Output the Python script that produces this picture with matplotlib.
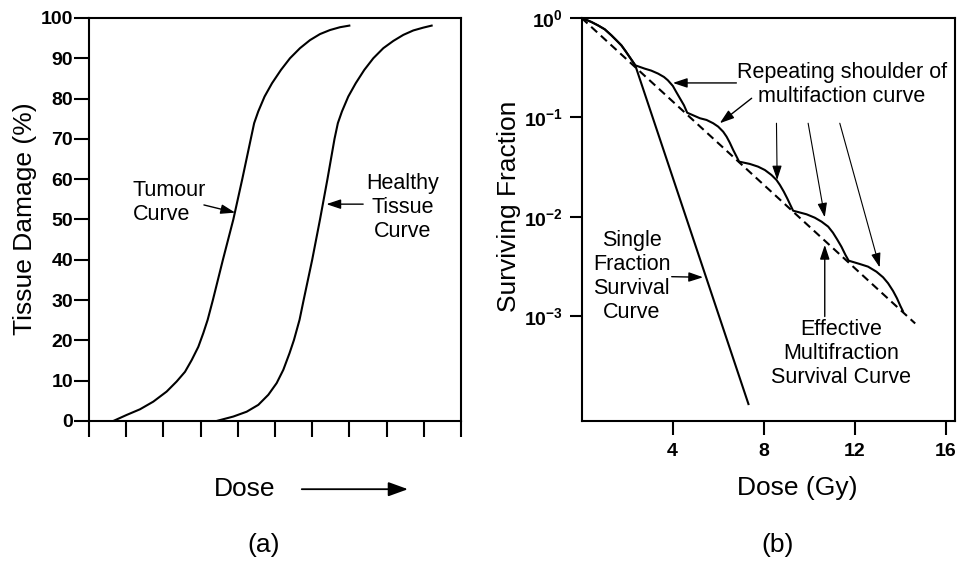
import matplotlib
matplotlib.use("Agg")
import numpy as np
from matplotlib import pyplot as plt
from matplotlib.ticker import NullLocator

plt.rcParams["font.family"] = ["Liberation Sans", "DejaVu Sans"]
plt.rcParams["mathtext.fontset"] = "custom"
plt.rcParams["mathtext.rm"] = "Liberation Sans"
plt.rcParams["mathtext.bf"] = "Liberation Sans:bold"

# (a) dose-response curves, dose in arbitrary tick units
tumour_dose = [0.654, 1.013, 1.371, 1.729, 2.088, 2.357, 2.581, 2.760, 2.939, 3.073,
               3.19, 3.33, 3.60, 3.88, 4.12, 4.35, 4.44, 4.55, 4.72, 4.92,
               5.16, 5.403, 5.672, 5.941, 6.210, 6.478, 6.747, 6.998]
tumour_damage = [0, 1.5, 2.9, 4.8, 7.3, 9.8, 12.2, 15.1, 18.4, 21.8,
                 25.1, 30, 40, 50, 60, 70, 73.9, 76.8, 80.5, 83.8,
                 87.1, 90.0, 92.5, 94.5, 96.0, 97.0, 97.7, 98.1]
healthy_dose = [3.432, 3.880, 4.239, 4.552, 4.821, 5.045, 5.224, 5.39, 5.51, 5.66,
                5.77, 6.00, 6.21, 6.41, 6.60, 6.69, 6.80, 6.97, 7.17, 7.40,
                7.643, 7.912, 8.181, 8.450, 8.718, 8.987, 9.211]
healthy_damage = [0, 1.1, 2.3, 4.0, 6.5, 9.4, 12.7, 16.8, 20.1, 25.1,
                  30, 40, 50, 60, 70, 73.9, 76.8, 80.5, 83.8, 87.1,
                  90.0, 92.5, 94.3, 95.8, 96.9, 97.6, 98.1]
damage_ticks = list(range(0, 101, 10))
dose_ticks_a = list(range(0, 11))

# (b) survival curves, log10 of surviving fraction
single_dose = [0, 0.43, 0.72, 1.02, 1.31, 1.53, 1.75, 1.94, 2.11, 2.26, 2.36, 7.33]
single_log_sf = [0, -0.040, -0.074, -0.114, -0.174, -0.224, -0.275, -0.335, -0.392, -0.442,
                 -0.476, -3.88]
multi_dose = [0, 0.43, 0.72, 1.02, 1.31, 1.53, 1.75, 1.94, 2.11, 2.26, 2.36,
              2.77, 3.06, 3.36, 3.62, 3.79, 4.01, 4.16, 4.33, 4.50, 4.64,
              5.20, 5.49, 5.78, 6.00, 6.22, 6.37, 6.51, 6.66, 6.81, 6.92,
              7.39, 7.75, 8.05, 8.34, 8.56, 8.71, 8.88, 9.03, 9.19, 9.29,
              9.88, 10.24, 10.54, 10.83, 11.04, 11.22, 11.41, 11.59, 11.73,
              12.21, 12.58, 12.95, 13.24, 13.46, 13.68, 13.85, 14.00, 14.11]
multi_log_sf = [0, -0.040, -0.074, -0.114, -0.174, -0.224, -0.275, -0.335, -0.392, -0.442, -0.476,
                -0.509, -0.529, -0.559, -0.593, -0.626, -0.683, -0.744, -0.811, -0.878, -0.952,
                -1.008, -1.025, -1.058, -1.092, -1.143, -1.193, -1.253, -1.327, -1.394, -1.444,
                -1.467, -1.494, -1.528, -1.578, -1.628, -1.678, -1.745, -1.812, -1.889, -1.937,
                -1.973, -2.007, -2.047, -2.097, -2.158, -2.224, -2.298, -2.382, -2.439,
                -2.472, -2.499, -2.550, -2.606, -2.666, -2.744, -2.817, -2.894, -2.945]
effective_dose = [0, 14.65]
effective_log_sf = [0, -3.07]
sf_ticks = [1, 0.1, 0.01, 0.001]
sf_labels = [r"$\mathbf{10^{0}}$", r"$\mathbf{10^{-1}}$", r"$\mathbf{10^{-2}}$", r"$\mathbf{10^{-3}}$"]
dose_ticks_b = [4, 8, 12, 16]

LW = 1.5
ANNO = 15.5
SPACING = 1.18


def arrow(ax, tip, tail, lw=1.0):
    ax.annotate("", xy=tip, xytext=tail,
                arrowprops=dict(arrowstyle="-|>,head_length=0.72,head_width=0.24",
                                color="black", lw=lw, mutation_scale=12,
                                shrinkA=0, shrinkB=0))


fig = plt.figure(figsize=(9.61, 5.61), dpi=100)

# ---- panel (a)
ax1 = fig.add_axes([0.0926, 0.2496, 0.3871, 0.7184])
ax1.plot(tumour_dose, tumour_damage, color="black", lw=LW, solid_joinstyle="round")
ax1.plot(healthy_dose, healthy_damage, color="black", lw=LW, solid_joinstyle="round")
ax1.set_xlim(0, 10)
ax1.set_ylim(0, 100)
ax1.set_yticks(damage_ticks)
ax1.set_yticklabels([str(v) for v in damage_ticks], fontsize=14, fontweight="bold")
ax1.set_xticks(dose_ticks_a)
ax1.set_xticklabels([])
ax1.tick_params(axis="y", length=11, width=LW, pad=0.5)
ax1.tick_params(axis="x", length=11.5, width=LW)

ax1.text(1.18, 54.2, "Tumour\nCurve", fontsize=ANNO, ha="left", va="center", linespacing=SPACING)
arrow(ax1, (3.93, 51.7), (3.09, 53.6))
ax1.text(8.43, 53.0, "Healthy\nTissue\nCurve", fontsize=ANNO, ha="center", va="center",
         linespacing=SPACING)
arrow(ax1, (6.38, 53.8), (7.37, 53.8))

# ---- panel (b)
ax2 = fig.add_axes([0.6051, 0.2496, 0.3887, 0.7184])
ax2.set_yscale("log")
ax2.plot(single_dose, 10 ** np.array(single_log_sf), color="black", lw=LW, solid_joinstyle="round")
ax2.plot(multi_dose, 10 ** np.array(multi_log_sf), color="black", lw=LW, solid_joinstyle="round")
ax2.plot(effective_dose, 10 ** np.array(effective_log_sf), color="black", lw=LW,
         linestyle=(0, (3.9, 2.4)))
ax2.set_xlim(0, 16.4)
ax2.set_ylim(10 ** -4.05, 1)
ax2.set_yticks(sf_ticks)
ax2.set_yticklabels(sf_labels, fontsize=14)
ax2.yaxis.set_minor_locator(NullLocator())
ax2.set_xticks(dose_ticks_b)
ax2.set_xticklabels([str(v) for v in dose_ticks_b], fontsize=14, fontweight="bold")
ax2.tick_params(axis="y", length=8.5, width=LW, pad=5)
ax2.tick_params(axis="x", length=10, width=LW, pad=6)

ax2.text(11.43, 10 ** -0.668, "Repeating shoulder of\nmultifaction curve", fontsize=ANNO,
         ha="center", va="center", linespacing=SPACING)
arrow(ax2, (4.01, 10 ** -0.653), (6.80, 10 ** -0.653))
arrow(ax2, (6.07, 10 ** -1.058), (7.47, 10 ** -0.807))
arrow(ax2, (8.59, 10 ** -1.628), (8.56, 10 ** -1.058), lw=0.8)
arrow(ax2, (10.68, 10 ** -2.003), (9.95, 10 ** -1.058), lw=0.8)
arrow(ax2, (13.09, 10 ** -2.506), (11.34, 10 ** -1.058), lw=0.8)
ax2.text(2.21, 10 ** -2.598, "Single\nFraction\nSurvival\nCurve", fontsize=ANNO,
         ha="center", va="center", linespacing=SPACING)
arrow(ax2, (5.34, 10 ** -2.606), (3.96, 10 ** -2.60))
ax2.text(11.41, 10 ** -3.37, "Effective\nMultifraction\nSurvival Curve", fontsize=ANNO,
         ha="center", va="center", linespacing=SPACING)
arrow(ax2, (10.68, 10 ** -2.28), (10.68, 10 ** -3.00))

for ax in (ax1, ax2):
    for s in ax.spines.values():
        s.set_linewidth(LW)

# axis titles and panel letters
fig.text(25 / 961, 0.6105, "Tissue Damage (%)", fontsize=19, rotation=90, ha="center", va="center")
fig.text(509 / 961, 0.633, "Surviving Fraction", fontsize=19, rotation=90, ha="center", va="center")
fig.text(245 / 961, 0.128, "Dose", fontsize=19, ha="center", va="center")
ax1.annotate("", xy=(0.4245, 0.128), xytext=(0.314, 0.128), xycoords="figure fraction",
             arrowprops=dict(arrowstyle="-|>,head_length=0.8,head_width=0.29", color="black",
                             lw=1.3, mutation_scale=15, shrinkA=0, shrinkB=0),
             annotation_clip=False)
fig.text(797.5 / 961, 1 - 488 / 561, "Dose (Gy)", fontsize=19, ha="center", va="center")
fig.text(264 / 961, 1 - 545 / 561, "(a)", fontsize=19, ha="center", va="center")
fig.text(777.5 / 961, 1 - 545 / 561, "(b)", fontsize=19, ha="center", va="center")

fig.savefig("out.png", dpi=100)
